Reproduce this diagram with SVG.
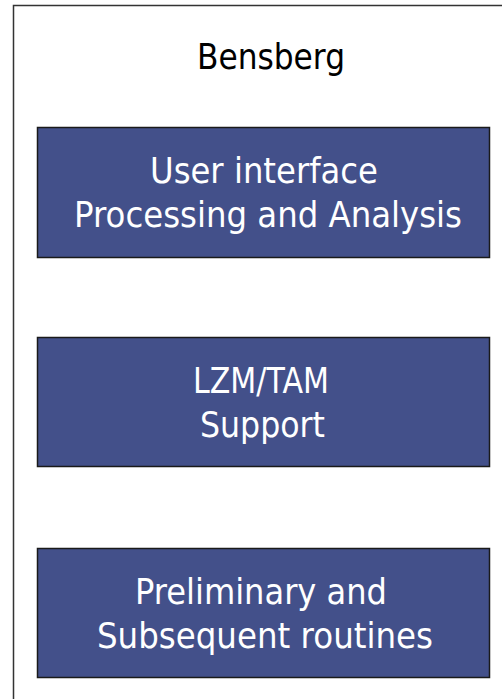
<svg xmlns="http://www.w3.org/2000/svg" width="502" height="699" viewBox="0 0 502 699">
<style>
.frame{fill:#ffffff;stroke:#333333;stroke-width:1.5}
.box{fill:#43508a;stroke:#1a1a1a;stroke-width:1.5}
.t{font-family:"DejaVu Sans","Liberation Sans",sans-serif;font-size:35px;text-anchor:middle}
.w{fill:#ffffff}
.k{fill:#000000}
</style>
<rect width="502" height="699" fill="#ffffff"/>
<g id="container">
<rect class="frame" x="13.5" y="5.5" width="530" height="720"/>
<text class="t k" x="271" y="69" textLength="148" lengthAdjust="spacingAndGlyphs">Bensberg</text>
</g>
<g id="node-ui">
<rect class="box" x="37.5" y="127.5" width="452" height="130"/>
<text class="t w" x="264" y="183" textLength="228" lengthAdjust="spacingAndGlyphs">User interface</text>
<text class="t w" x="268" y="227" textLength="388" lengthAdjust="spacingAndGlyphs">Processing and Analysis</text>
</g>
<g id="node-lzm">
<rect class="box" x="37.5" y="337.5" width="452" height="129"/>
<text class="t w" x="261" y="393" textLength="136" lengthAdjust="spacingAndGlyphs">LZM/TAM</text>
<text class="t w" x="262.5" y="437" textLength="125" lengthAdjust="spacingAndGlyphs">Support</text>
</g>
<g id="node-routines">
<rect class="box" x="37.5" y="548.5" width="452" height="129"/>
<text class="t w" x="261" y="604" textLength="252" lengthAdjust="spacingAndGlyphs">Preliminary and</text>
<text class="t w" x="265" y="648" textLength="336" lengthAdjust="spacingAndGlyphs">Subsequent routines</text>
</g>
<g id="connectors"></g>
</svg>
